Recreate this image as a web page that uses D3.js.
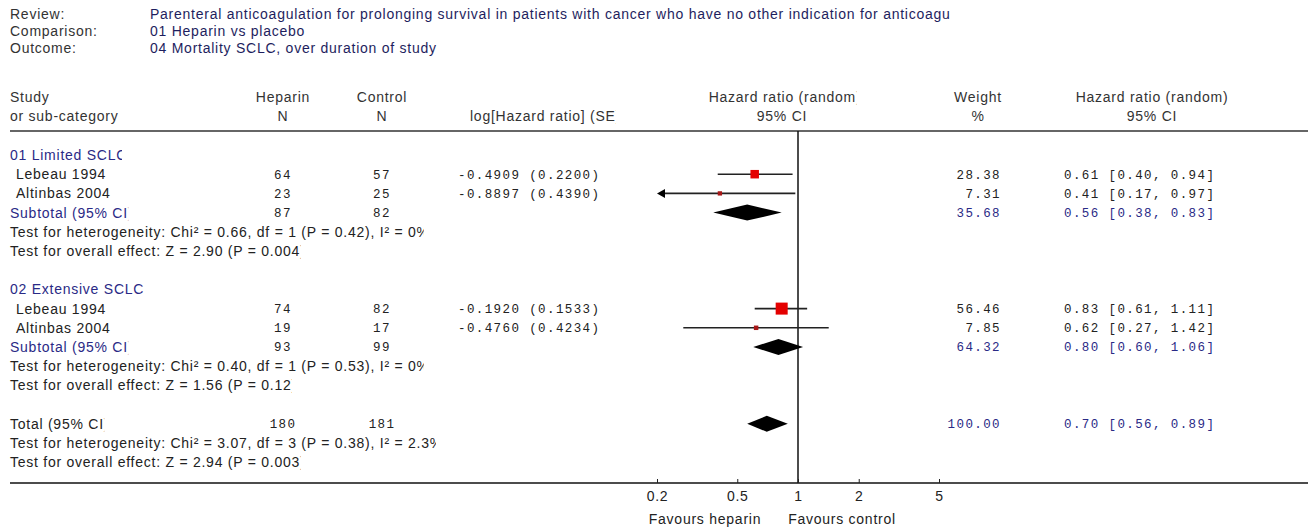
<!DOCTYPE html>
<html><head><meta charset="utf-8">
<script src="https://cdn.jsdelivr.net/npm/d3@7"></script>
<style>
html,body{margin:0;padding:0;background:#fff;}
svg{display:block;}
.sans{font-family:"Liberation Sans",Arial,sans-serif;font-size:14px;letter-spacing:0.75px;}
.mono{font-family:"Liberation Mono","Courier New",monospace;font-size:12.5px;letter-spacing:1.4px;}
</style></head>
<body>
<svg id="chart" width="1312" height="527"></svg>
<script>
// ---------- data ----------
const metaLabels = ["Review:", "Comparison:", "Outcome:"];
const metaValues = [
  "Parenteral anticoagulation for prolonging survival in patients with cancer who have no other indication for anticoagu",
  "01 Heparin vs placebo",
  "04 Mortality SCLC, over duration of study"
];
const groupTitles = ["01 Limited SCLC", "02 Extensive SCLC"];
const studyNames = [["Lebeau 1994", "Altinbas 2004"], ["Lebeau 1994", "Altinbas 2004"]];
const heparinN = [[64, 23], [74, 19]];
const controlN = [[57, 25], [82, 17]];
const logHR = [["-0.4909", "-0.8897"], ["-0.1920", "-0.4760"]];
const logSE = [["0.2200", "0.4390"], ["0.1533", "0.4234"]];
const studyWeight = [[28.38, 7.31], [56.46, 7.85]];
const studyHR = [[0.61, 0.41], [0.83, 0.62]];
const studyLow = [[0.40, 0.17], [0.61, 0.27]];
const studyHigh = [[0.94, 0.97], [1.11, 1.42]];
const subtotalHeparin = [87, 93];
const subtotalControl = [82, 99];
const subtotalWeight = [35.68, 64.32];
const subtotalHR = [0.56, 0.80];
const subtotalLow = [0.38, 0.60];
const subtotalHigh = [0.83, 1.06];
const heterogeneityTests = [
  "Test for heterogeneity: Chi\u00B2 = 0.66, df = 1 (P = 0.42), I\u00B2 = 0%",
  "Test for heterogeneity: Chi\u00B2 = 0.40, df = 1 (P = 0.53), I\u00B2 = 0%"
];
const overallTests = [
  "Test for overall effect: Z = 2.90 (P = 0.004)",
  "Test for overall effect: Z = 1.56 (P = 0.12)"
];
const totalHeparin = 180, totalControl = 181, totalWeight = 100.00;
const totalHR = 0.70, totalLow = 0.56, totalHigh = 0.89;
const totalHeterogeneity = "Test for heterogeneity: Chi\u00B2 = 3.07, df = 3 (P = 0.38), I\u00B2 = 2.3%";
const totalOverall = "Test for overall effect: Z = 2.94 (P = 0.003)";
const axisTicks = [0.2, 0.5, 1, 2, 5];
const favourLabels = ["Favours heparin", "Favours control"];

// ---------- layout ----------
const svg = d3.select("#chart");
const x = d3.scaleLog().domain([0.2, 5]).range([657, 939]);
const rowY = d3.scaleLinear().domain([0, 1]).range([155, 174.2]);
const axisY = 483, headerLineY = 131;
const col = {label: 10, study: 16, metaVal: 150, hep: 283, ctl: 382, loghr: 458, weight: 1001, ci: 1064};
const navy = "#2a2a86", dark = "#222", gray = "#333";
const sz = d3.scaleSqrt().domain([0, 56.46]).range([0, 12]);
const fmt2 = d3.format(".2f");

let clipId = 0;
function txt(g, xx, yy, s, opt = {}) {
  const t = g.append("text").attr("x", xx).attr("y", yy).attr("dy", "0.35em")
    .attr("class", opt.mono ? "mono" : "sans")
    .attr("fill", opt.fill || dark)
    .attr("text-anchor", opt.anchor || "start")
    .text(s);
  if (opt.clipTail) {
    const len = t.node().getComputedTextLength();
    let x0 = xx;
    if (opt.anchor === "middle") x0 = xx - len / 2;
    if (opt.anchor === "end") x0 = xx - len;
    const id = "clip" + (clipId++);
    svg.append("clipPath").attr("id", id).append("rect")
      .attr("x", x0 - 2).attr("y", yy - 12).attr("width", len - opt.clipTail + 2).attr("height", 24);
    t.attr("clip-path", `url(#${id})`);
  }
  return t;
}

const gText = svg.append("g");
// meta header
metaLabels.forEach((l, i) => {
  txt(gText, col.label, 14 + i * 17, l, {fill: gray});
  txt(gText, col.metaVal, 14 + i * 17, metaValues[i], {fill: "#1e1e5e"});
});
// column headers
txt(gText, col.label, 97, "Study", {fill: gray});
txt(gText, col.label, 116, "or sub-category", {fill: gray});
txt(gText, col.hep, 97, "Heparin", {fill: gray, anchor: "middle"});
txt(gText, col.hep, 116, "N", {fill: gray, anchor: "middle"});
txt(gText, col.ctl, 97, "Control", {fill: gray, anchor: "middle"});
txt(gText, col.ctl, 116, "N", {fill: gray, anchor: "middle"});
txt(gText, 470, 116, "log[Hazard ratio] (SE)", {fill: gray, clipTail: 5});
txt(gText, 785, 97, "Hazard ratio (random)", {fill: gray, anchor: "middle", clipTail: 5});
txt(gText, 782, 116, "95% CI", {fill: gray, anchor: "middle"});
txt(gText, 978, 97, "Weight", {fill: gray, anchor: "middle"});
txt(gText, 978, 116, "%", {fill: gray, anchor: "middle"});
txt(gText, 1152, 97, "Hazard ratio (random)", {fill: gray, anchor: "middle"});
txt(gText, 1152, 116, "95% CI", {fill: gray, anchor: "middle"});

// lines
svg.append("line").attr("x1", 10).attr("x2", 1308).attr("y1", headerLineY).attr("y2", headerLineY)
  .attr("stroke", "#333").attr("stroke-width", 1.3);
svg.append("line").attr("x1", 10).attr("x2", 1308).attr("y1", axisY).attr("y2", axisY)
  .attr("stroke", "#111").attr("stroke-width", 1.5);
svg.append("line").attr("x1", x(1)).attr("x2", x(1)).attr("y1", headerLineY).attr("y2", axisY)
  .attr("stroke", "#111").attr("stroke-width", 1.5);

const gPlot = svg.append("g");
function diamond(yy, hr, lo, hi) {
  const h = 8;
  gPlot.append("polygon")
    .attr("points", [[x(lo), yy], [x(hr), yy - h], [x(hi), yy], [x(hr), yy + h]].map(p => p.join(",")).join(" "))
    .attr("fill", "#000");
}
function study(yy, hr, lo, hi, w) {
  const [d0, d1] = x.domain();
  const clo = Math.max(lo, d0), chi = Math.min(hi, d1);
  gPlot.append("line").attr("x1", x(clo) + (lo < d0 ? 4 : 0)).attr("x2", x(chi)).attr("y1", yy).attr("y2", yy)
    .attr("stroke", "#222").attr("stroke-width", 1.6);
  if (lo < d0) {
    const ax = x(d0);
    gPlot.append("polygon")
      .attr("points", `${ax},${yy} ${ax + 8},${yy - 4.5} ${ax + 8},${yy + 4.5}`)
      .attr("fill", "#000");
  }
  const s = sz(w);
  gPlot.append("rect").attr("x", x(hr) - s / 2).attr("y", yy - s / 2).attr("width", s).attr("height", s)
    .attr("fill", s >= 7 ? "#e40000" : "#a81818");
}

// groups
groupTitles.forEach((title, gi) => {
  const base = gi * 7;
  txt(gText, col.label, rowY(base), title, {fill: navy, clipTail: gi === 0 ? 5 : 0});
  studyNames[gi].forEach((name, si) => {
    const yy = rowY(base + 1 + si);
    txt(gText, col.study, yy, name, {fill: dark});
    txt(gText, col.hep, yy, heparinN[gi][si], {mono: true, anchor: "middle"});
    txt(gText, col.ctl, yy, controlN[gi][si], {mono: true, anchor: "middle"});
    txt(gText, col.loghr, yy, `${logHR[gi][si]} (${logSE[gi][si]})`, {mono: true});
    txt(gText, col.weight, yy, fmt2(studyWeight[gi][si]), {mono: true, anchor: "end"});
    txt(gText, col.ci, yy, `${fmt2(studyHR[gi][si])} [${fmt2(studyLow[gi][si])}, ${fmt2(studyHigh[gi][si])}]`, {mono: true});
    study(yy, studyHR[gi][si], studyLow[gi][si], studyHigh[gi][si], studyWeight[gi][si]);
  });
  const ys = rowY(base + 3);
  txt(gText, col.label, ys, "Subtotal (95% CI)", {fill: navy, clipTail: 5});
  txt(gText, col.hep, ys, subtotalHeparin[gi], {mono: true, anchor: "middle"});
  txt(gText, col.ctl, ys, subtotalControl[gi], {mono: true, anchor: "middle"});
  txt(gText, col.weight, ys, fmt2(subtotalWeight[gi]), {mono: true, anchor: "end", fill: navy});
  txt(gText, col.ci, ys, `${fmt2(subtotalHR[gi])} [${fmt2(subtotalLow[gi])}, ${fmt2(subtotalHigh[gi])}]`, {mono: true, fill: navy});
  diamond(ys, subtotalHR[gi], subtotalLow[gi], subtotalHigh[gi]);
  txt(gText, col.label, rowY(base + 4), heterogeneityTests[gi], {fill: dark, clipTail: 6});
  txt(gText, col.label, rowY(base + 5), overallTests[gi], {fill: dark, clipTail: 5});
});

// total
const yt = rowY(14);
txt(gText, col.label, yt, "Total (95% CI)", {fill: dark, clipTail: 5});
txt(gText, col.hep, yt, totalHeparin, {mono: true, anchor: "middle"});
txt(gText, col.ctl, yt, totalControl, {mono: true, anchor: "middle"});
txt(gText, col.weight, yt, fmt2(totalWeight), {mono: true, anchor: "end", fill: navy});
txt(gText, col.ci, yt, `${fmt2(totalHR)} [${fmt2(totalLow)}, ${fmt2(totalHigh)}]`, {mono: true, fill: navy});
diamond(yt, totalHR, totalLow, totalHigh);
txt(gText, col.label, rowY(15), totalHeterogeneity, {fill: dark, clipTail: 7});
txt(gText, col.label, rowY(16), totalOverall, {fill: dark, clipTail: 5});

// axis
const axis = d3.axisBottom(x).tickValues(axisTicks).tickFormat(d3.format("")).tickSize(-4).tickPadding(8);
const gAxis = svg.append("g").attr("transform", `translate(0,${axisY})`).call(axis);
gAxis.select(".domain").remove();
gAxis.selectAll("line").attr("stroke", "#222");
gAxis.selectAll("text").attr("class", "sans").attr("fill", dark);
txt(gText, 705, 519, favourLabels[0], {anchor: "middle"});
txt(gText, 842, 519, favourLabels[1], {anchor: "middle"});
</script>
</body></html>
